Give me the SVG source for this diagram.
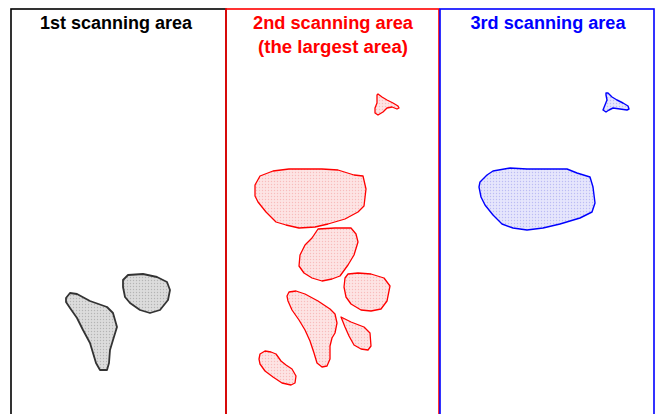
<svg xmlns="http://www.w3.org/2000/svg" width="657" height="414" viewBox="0 0 657 414">
<defs>
<pattern id="pk" width="3" height="3" patternUnits="userSpaceOnUse"><rect width="3" height="3" fill="#dcdcdc"/><circle cx="1.5" cy="1.5" r="0.7" fill="#b4b4b4"/></pattern>
<pattern id="pr" width="3" height="3" patternUnits="userSpaceOnUse"><rect width="3" height="3" fill="#fde4e4"/><circle cx="1.5" cy="1.5" r="0.7" fill="#f8bcbc"/></pattern>
<pattern id="pb" width="3" height="3" patternUnits="userSpaceOnUse"><rect width="3" height="3" fill="#e6e6fc"/><circle cx="1.5" cy="1.5" r="0.7" fill="#bcbcf4"/></pattern>
</defs>
<style>
.t{font-family:"Liberation Sans",Arial,sans-serif;font-weight:bold;font-size:18px;text-anchor:middle}
.k{fill:url(#pk);stroke:#333;stroke-width:1.8;stroke-linejoin:round}
.r{fill:url(#pr);stroke:#ff0000;stroke-width:1.3;stroke-linejoin:round}
.b{fill:url(#pb);stroke:#0000ff;stroke-width:1.4;stroke-linejoin:round}
</style>
<g id="area1">
<rect x="11" y="9" width="215" height="420" fill="none" stroke="#000" stroke-width="1.6"/>
<text class="t" x="116" y="29" fill="#000" textLength="152" lengthAdjust="spacingAndGlyphs">1st scanning area</text>
<polygon class="k" points="66,298 70,293 77,294 90,301 107,307 113,313 117,327 113,340 110,350 109,363 107,370 100,370 96,363 93,353 90,343 83,330 77,318 70,308 66,302"/>
<polygon class="k" points="123,280 128,275 143,274 157,277 167,282 170,290 168,300 160,310 150,313 140,310 130,303 125,297 123,287"/>
</g>
<g id="area2">
<rect x="226" y="9" width="213" height="420" fill="none" stroke="#ff0000" stroke-width="1.6"/>
<text class="t" x="333" y="29" fill="#ff0000" textLength="160" lengthAdjust="spacingAndGlyphs">2nd scanning area</text>
<text class="t" x="333" y="53" fill="#ff0000" textLength="150" lengthAdjust="spacingAndGlyphs">(the largest area)</text>
<polygon class="r" points="377,95 378,94 382,97 387,100 393,103 398,106 399,108 397,109 392,107 387,108 383,112 378,115 375,113 375,108 377,103 377,98"/>
<polygon class="r" points="255,185 260,176 273,171 289,169 322,169 338,170 354,175 363,176 366,189 364,206 358,212 345,219 328,224 315,227 299,228 286,225 276,222 266,212 258,202 255,196"/>
<polygon class="r" points="318,229 335,228 351,228 356,234 358,242 354,255 348,265 340,276 332,279 322,281 312,278 304,273 299,266 300,255 305,245 312,238"/>
<polygon class="r" points="348,274 358,273 371,274 384,278 390,286 387,301 381,309 371,311 361,310 351,304 346,297 344,287 345,278"/>
<polygon class="r" points="289,292 296,291 305,294 318,301 330,309 335,314 337,323 335,333 332,338 330,346 330,359 327,366 322,367 317,363 314,353 310,341 305,330 299,320 292,310 288,301 287,296"/>
<polygon class="r" points="341,317 351,322 364,327 370,333 371,346 368,350 361,349 354,345 349,336 345,327"/>
<polygon class="r" points="260,354 265,351 271,352 276,354 281,361 286,365 292,369 296,376 295,383 291,385 282,383 273,377 265,371 260,364 259,359"/>
</g>
<g id="area3">
<rect x="440" y="9" width="214" height="420" fill="none" stroke="#0000ff" stroke-width="1.6"/>
<text class="t" x="548" y="29" fill="#0000ff" textLength="155" lengthAdjust="spacingAndGlyphs">3rd scanning area</text>
<polygon class="b" points="606,93 608,93 612,97 617,100 623,103 628,106 629,109 627,110 620,109 613,108 609,110 606,112 603,110 605,105 607,100 606,95"/>
<polygon class="b" points="480,182 487,175 493,171 510,168 527,169 567,169 577,173 590,177 593,187 595,203 592,212 580,218 560,224 543,228 527,230 513,228 502,224 493,215 485,205 481,197 479,187"/>
</g>
</svg>
